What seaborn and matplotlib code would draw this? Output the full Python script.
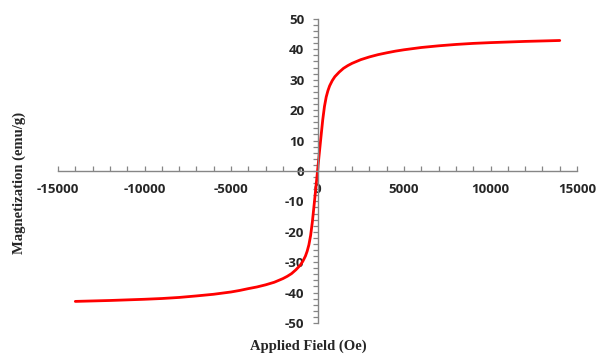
import matplotlib
matplotlib.use('Agg')
import matplotlib.pyplot as plt
from matplotlib.ticker import MultipleLocator
import seaborn as sns

# Applied field (Oe) and magnetization (emu/g)
field = [-14000, -12000, -10000, -9000, -8000, -7000, -6000, -5000, -4500,
         -4000, -3500, -3000, -2500, -2000, -1750, -1500, -1250, -1000, -850,
         -700, -600, -500, -400, -300, -200, -100, 0, 100, 200, 300, 400, 500,
         600, 700, 850, 1000, 1250, 1500, 1750, 2000, 2500, 3000, 3500, 4000,
         4500, 5000, 6000, 7000, 8000, 9000, 10000, 12000, 14000]
magnetization = [-42.9, -42.6, -42.2, -41.95, -41.6, -41.1, -40.55, -39.8, -39.3,
                 -38.7, -38.15, -37.45, -36.6, -35.4, -34.65, -33.75, -32.5, -31.0,
                 -29.7, -28.0, -26.4, -24.3, -21.2, -16.8, -11.3, -5.7, 0.0, 5.7,
                 11.3, 16.8, 21.2, 24.3, 26.4, 28.0, 29.7, 31.0, 32.5, 33.75,
                 34.65, 35.4, 36.6, 37.5, 38.25, 38.85, 39.4, 39.85, 40.6, 41.15,
                 41.6, 41.95, 42.2, 42.6, 42.9]

x_ticks = [-15000, -10000, -5000, 0, 5000, 10000, 15000]
y_ticks = [-50, -40, -30, -20, -10, 0, 10, 20, 30, 40, 50]

sns.set_style('white')

fig = plt.figure(figsize=(5.98, 3.54), dpi=100)
ax = fig.add_axes([0.097, 0.0876, 0.868, 0.859])

sns.lineplot(x=field, y=magnetization, color='#ff0000', linewidth=2.0, ax=ax)

ax.set_xlim(-15000, 15000)
ax.set_ylim(-50, 50)
ax.set_xticks(x_ticks)
ax.set_yticks(y_ticks)
ax.xaxis.set_minor_locator(MultipleLocator(1000))
ax.yaxis.set_minor_locator(MultipleLocator(2))

# axes crossing at the origin
ax.spines['left'].set_position(('data', 0))
ax.spines['bottom'].set_position(('data', 0))
ax.spines['right'].set_visible(False)
ax.spines['top'].set_visible(False)
for s in ['left', 'bottom']:
    ax.spines[s].set_color('#868686')
    ax.spines[s].set_linewidth(1.0)

ax.tick_params(axis='x', which='both', direction='in', length=3.5, width=0.9,
               color='#868686', pad=9, bottom=True)
ax.tick_params(axis='y', which='both', direction='out', length=3.5, width=0.9,
               color='#868686', pad=6, left=True)
ax.set_xticklabels([str(t) for t in x_ticks])
ax.set_yticklabels([str(t) for t in y_ticks])
for lab in ax.get_xticklabels() + ax.get_yticklabels():
    lab.set_fontfamily('Open Sans')
    lab.set_fontweight('bold')
    lab.set_fontsize(9.5)
    lab.set_color('#262626')

ax.set_xlabel('')
ax.set_ylabel('')
fig.text(0.516, 0.023, 'Applied Field (Oe)', ha='center', va='center',
         family='Liberation Serif', weight='bold', size=10.5, color='#262626')
fig.text(0.032, 0.482, 'Magnetization (emu/g)', ha='center', va='center',
         rotation=90, family='Liberation Serif', weight='bold', size=10.5,
         color='#262626')

fig.savefig('out.png', dpi=100)
